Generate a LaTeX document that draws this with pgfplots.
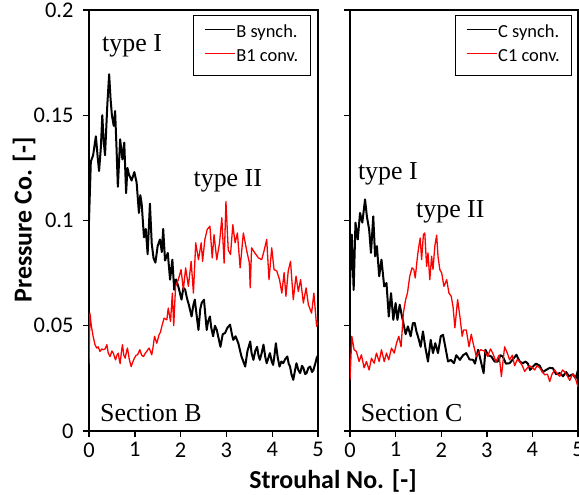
\documentclass[border=0pt]{standalone}
\usepackage{fontspec}
\setmainfont{Carlito}
\newfontfamily\annfont{Liberation Serif}
\usepackage{pgfplots}
\pgfplotsset{compat=1.18}

\tikzset{ann/.style={font=\annfont\fontsize{26}{26}\selectfont}}

\pgfplotsset{
  panel/.style={
    scale only axis,
    height=421bp,
    xmin=0, xmax=5, ymin=0, ymax=0.2,
    axis line style={line width=2.2bp},
    xtick={0,1,2,3,4,5},
    xticklabels={0,1,2,3,4,5},
    ytick={0,0.05,0.1,0.15,0.2},
    xtick pos=left, ytick pos=left,
    tick align=outside,
    major tick length=6bp,
    tick style={line width=1.4bp, black},
    /pgf/number format/assume math mode=true,
    tick label style={font=\fontsize{22.5}{22.5}\selectfont},
    xticklabel style={yshift=-2bp},
    yticklabel style={xshift=-6bp},
    legend style={
      anchor=north east,
      draw=black, line width=0.6bp,
      font=\fontsize{18.5}{18.5}\selectfont,
      inner xsep=11bp, inner ysep=9.5bp,
      row sep=7bp,
      nodes={inner xsep=1bp, inner ysep=0pt, text height=13bp, text depth=4bp},
      cells={anchor=west},
    },
    legend image code/.code={\draw[#1, line width=1.1bp] (0bp,3.5bp) -- (30bp,3.5bp);},
  },
  synch/.style={black, line width=2bp, line join=round},
  conv/.style={red, line width=1.3bp, line join=round},
}

\begin{document}
\begin{tikzpicture}
\useasboundingbox (0,0) rectangle (579bp,495bp);

% Section B
\begin{axis}[panel, width=229bp, at={(89bp,64bp)}, anchor=south west,
  yticklabels={0,0.05,0.1,0.15,0.2},
  legend style={at={(0.967,0.988)}}]
\addplot[synch] coordinates {
(0,0.100) (0.04,0.128) (0.09,0.131) (0.15,0.140) (0.19,0.130) (0.22,0.1235) (0.26,0.135)
(0.29,0.150) (0.32,0.138) (0.35,0.131) (0.40,0.155) (0.44,0.1695) (0.47,0.158) (0.50,0.150)
(0.54,0.145) (0.57,0.152) (0.60,0.135) (0.63,0.116) (0.68,0.1386) (0.73,0.129) (0.77,0.137)
(0.81,0.113) (0.84,0.125) (0.87,0.122) (0.93,0.119) (0.99,0.123) (1.04,0.118) (1.09,0.1036)
(1.12,0.112) (1.15,0.108) (1.20,0.092) (1.24,0.096) (1.28,0.084) (1.33,0.108) (1.37,0.089)
(1.41,0.082) (1.45,0.080) (1.50,0.088) (1.55,0.091) (1.59,0.085) (1.62,0.096) (1.66,0.081)
(1.72,0.0846) (1.77,0.0719) (1.82,0.0814) (1.86,0.0671) (1.90,0.072) (1.95,0.0687)
(2.02,0.0624) (2.06,0.068) (2.10,0.0671) (2.14,0.063) (2.18,0.060) (2.24,0.0544) (2.28,0.060)
(2.31,0.0624) (2.35,0.055) (2.39,0.048) (2.43,0.058) (2.46,0.0608) (2.51,0.0624) (2.57,0.048)
(2.60,0.052) (2.64,0.0544) (2.67,0.049) (2.71,0.045) (2.75,0.050) (2.79,0.048) (2.83,0.044)
(2.87,0.040) (2.92,0.046) (2.97,0.0465) (3.02,0.049) (3.08,0.0505) (3.12,0.046) (3.15,0.0433)
(3.20,0.045) (3.26,0.0417) (3.30,0.038) (3.33,0.0354) (3.37,0.033) (3.41,0.0306) (3.46,0.038)
(3.52,0.0425) (3.55,0.037) (3.59,0.0338) (3.63,0.038) (3.67,0.040) (3.70,0.036) (3.73,0.0338)
(3.77,0.037) (3.81,0.041) (3.85,0.035) (3.88,0.0322) (3.92,0.035) (3.95,0.037) (3.99,0.033)
(4.02,0.0314) (4.05,0.036) (4.08,0.0417) (4.12,0.035) (4.16,0.0306) (4.20,0.033) (4.24,0.0322)
(4.28,0.034) (4.33,0.0354) (4.36,0.032) (4.39,0.0306) (4.42,0.027) (4.46,0.0243) (4.50,0.029)
(4.53,0.0322) (4.57,0.029) (4.61,0.0275) (4.65,0.031) (4.68,0.030) (4.72,0.027) (4.75,0.0275)
(4.79,0.030) (4.83,0.0306) (4.87,0.028) (4.90,0.029) (4.94,0.032) (4.97,0.0346) (5.0,0.036)
};
\addlegendentry{B synch.}
\addplot[conv] coordinates {
(0,0.032) (0.02,0.056) (0.05,0.050) (0.09,0.045) (0.13,0.041) (0.17,0.0394) (0.20,0.040)
(0.24,0.0378) (0.28,0.039) (0.31,0.0386) (0.35,0.039) (0.39,0.041) (0.42,0.037) (0.46,0.0354)
(0.50,0.038) (0.53,0.037) (0.56,0.035) (0.58,0.0338) (0.61,0.036) (0.64,0.037) (0.66,0.034)
(0.68,0.032) (0.71,0.038) (0.73,0.041) (0.76,0.036) (0.79,0.0346) (0.82,0.038) (0.84,0.0394)
(0.88,0.034) (0.92,0.0306) (0.96,0.033) (0.99,0.0346) (1.03,0.036) (1.06,0.0362) (1.11,0.0386)
(1.15,0.036) (1.19,0.0354) (1.23,0.037) (1.26,0.0378) (1.31,0.0394) (1.34,0.038) (1.37,0.0362)
(1.40,0.040) (1.43,0.045) (1.48,0.0417) (1.53,0.0457) (1.56,0.047) (1.59,0.0497) (1.64,0.0536)
(1.70,0.0528) (1.73,0.0584) (1.78,0.052) (1.82,0.0655) (1.85,0.050) (1.89,0.0687) (1.95,0.0719)
(2.01,0.0767) (2.06,0.0671) (2.11,0.0775) (2.17,0.0687) (2.23,0.0806) (2.28,0.0655) (2.33,0.0894)
(2.39,0.0814) (2.45,0.0894) (2.48,0.0806) (2.53,0.091) (2.58,0.0957) (2.64,0.0973) (2.69,0.0822)
(2.73,0.0933) (2.79,0.0814) (2.85,0.0894) (2.90,0.1013) (2.95,0.0798) (2.99,0.109) (3.04,0.086)
(3.09,0.0838) (3.14,0.098) (3.19,0.0894) (3.24,0.0941) (3.30,0.0775) (3.37,0.0941) (3.44,0.086)
(3.50,0.080) (3.52,0.068) (3.55,0.087) (3.62,0.0846) (3.70,0.0822) (3.77,0.0814) (3.82,0.0854)
(3.88,0.091) (3.93,0.0719) (3.99,0.087) (4.04,0.0767) (4.10,0.076) (4.16,0.0719) (4.21,0.0655)
(4.26,0.0752) (4.30,0.064) (4.35,0.076) (4.40,0.0806) (4.46,0.0624) (4.52,0.0736) (4.57,0.0663)
(4.62,0.0719) (4.68,0.0608) (4.74,0.068) (4.79,0.060) (4.86,0.056) (4.91,0.0655) (4.97,0.0497)
(5.0,0.052)
};
\addlegendentry{B1 conv.}
\node[ann] at (axis cs:0.94,0.183) {type I};
\node[ann] at (axis cs:3.03,0.119) {type II};
\node[ann] at (axis cs:1.35,0.0085) {Section B};
\end{axis}

% Section C
\begin{axis}[panel, width=228bp, at={(350bp,64bp)}, anchor=south west,
  yticklabels={},
  legend style={at={(0.974,0.988)}}]
\addplot[synch] coordinates {
(0,0.070) (0.04,0.0933) (0.08,0.067) (0.12,0.099) (0.17,0.091) (0.22,0.1036) (0.27,0.099)
(0.33,0.110) (0.37,0.102) (0.42,0.0957) (0.46,0.0846) (0.51,0.102) (0.55,0.083) (0.59,0.0878)
(0.64,0.0735) (0.69,0.0814) (0.75,0.0687) (0.80,0.0703) (0.85,0.0544) (0.90,0.0655) (0.95,0.0528)
(1.00,0.0608) (1.04,0.0528) (1.09,0.060) (1.14,0.0544) (1.17,0.0513) (1.22,0.046) (1.27,0.0497)
(1.33,0.045) (1.38,0.0513) (1.42,0.0513) (1.46,0.047) (1.49,0.045) (1.55,0.040) (1.60,0.0473)
(1.65,0.040) (1.71,0.033) (1.77,0.0433) (1.82,0.037) (1.87,0.0417) (1.93,0.037) (1.99,0.045)
(2.04,0.0457) (2.09,0.040) (2.15,0.033) (2.21,0.0338) (2.28,0.0322) (2.33,0.036) (2.41,0.0338)
(2.48,0.036) (2.55,0.037) (2.62,0.034) (2.70,0.0338) (2.74,0.032) (2.81,0.0386) (2.86,0.034)
(2.93,0.0275) (2.97,0.0386) (3.03,0.036) (3.10,0.0354) (3.17,0.033) (3.24,0.033) (3.30,0.036)
(3.35,0.0354) (3.42,0.032) (3.50,0.0322) (3.57,0.034) (3.65,0.0362) (3.72,0.033) (3.79,0.0322)
(3.85,0.033) (3.90,0.032) (3.95,0.029) (4.01,0.0306) (4.08,0.032) (4.16,0.031) (4.23,0.028)
(4.30,0.029) (4.38,0.030) (4.45,0.0298) (4.52,0.027) (4.60,0.0275) (4.67,0.026) (4.74,0.028)
(4.80,0.026) (4.89,0.027) (4.95,0.025) (5.0,0.029)
};
\addlegendentry{C synch.}
\addplot[conv] coordinates {
(0,0.0243) (0.04,0.045) (0.09,0.0386) (0.14,0.0378) (0.20,0.033) (0.25,0.0362) (0.31,0.030)
(0.36,0.033) (0.42,0.029) (0.47,0.0346) (0.53,0.0322) (0.58,0.037) (0.64,0.033) (0.69,0.0386)
(0.75,0.033) (0.80,0.037) (0.85,0.0338) (0.91,0.0394) (0.97,0.037) (1.02,0.0417) (1.07,0.045)
(1.12,0.040) (1.17,0.056) (1.22,0.0624) (1.26,0.0655) (1.31,0.0735) (1.36,0.0775) (1.40,0.0767)
(1.43,0.0727) (1.48,0.083) (1.51,0.0878) (1.54,0.0917) (1.57,0.0814) (1.61,0.0933) (1.64,0.0941)
(1.68,0.0782) (1.71,0.0846) (1.75,0.0719) (1.79,0.083) (1.82,0.0767) (1.86,0.0878) (1.90,0.093)
(1.93,0.083) (1.97,0.0767) (2.01,0.0751) (2.06,0.0687) (2.12,0.0719) (2.17,0.0655) (2.22,0.064)
(2.26,0.059) (2.30,0.049) (2.36,0.0624) (2.41,0.0544) (2.46,0.045) (2.49,0.048) (2.55,0.048)
(2.61,0.040) (2.66,0.046) (2.70,0.0417) (2.77,0.0354) (2.86,0.0386) (2.95,0.038) (3.02,0.0354)
(3.08,0.039) (3.13,0.037) (3.20,0.033) (3.27,0.036) (3.32,0.0259) (3.39,0.040) (3.45,0.037)
(3.50,0.0338) (3.56,0.036) (3.61,0.031) (3.67,0.034) (3.72,0.033) (3.78,0.031) (3.83,0.0283)
(3.89,0.030) (3.94,0.031) (4.00,0.030) (4.05,0.029) (4.10,0.031) (4.16,0.030) (4.22,0.028)
(4.27,0.0267) (4.33,0.027) (4.38,0.0235) (4.43,0.027) (4.49,0.029) (4.55,0.027) (4.60,0.026)
(4.66,0.029) (4.71,0.028) (4.77,0.026) (4.82,0.024) (4.88,0.027) (4.93,0.026) (5.0,0.021)
};
\addlegendentry{C1 conv.}
\node[ann] at (axis cs:0.83,0.122) {type I};
\node[ann] at (axis cs:2.2,0.104) {type II};
\node[ann] at (axis cs:1.35,0.0085) {Section C};
\end{axis}

% shared axis titles
\node[rotate=90, font=\bfseries\fontsize{26}{26}\selectfont] at (24bp,275bp) {Pressure Co. [-]};
\node[font=\bfseries\fontsize{26}{26}\selectfont] at (333bp,14bp) {Strouhal No. [-]};
\end{tikzpicture}
\end{document}
